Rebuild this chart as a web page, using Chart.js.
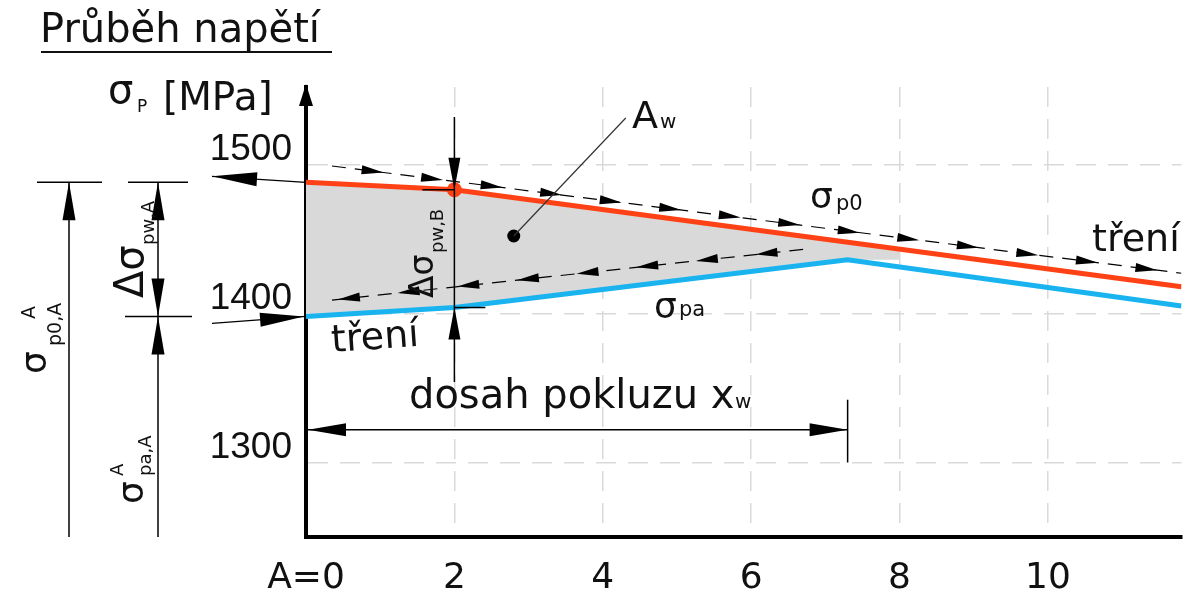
<!DOCTYPE html>
<html>
<head>
<meta charset="utf-8">
<script src="https://cdn.jsdelivr.net/npm/chart.js@4.4.0/dist/chart.umd.min.js"></script>
<style>
html, body { margin: 0; padding: 0; background: #fff; }
</style>
</head>
<body>
<canvas id="stressChart" width="1188" height="592"></canvas>
<script>
// osa x a y
const xTicks = [0, 2, 4, 6, 8, 10];
const yTicks = [1300, 1400, 1500];

// σp0 (cervena) a σpa (modra)
const p0X = [0, 2, 11.8];
const p0Y = [1488, 1483, 1418];
const paX = [0, 2, 7.3, 11.8];
const paY = [1398, 1404, 1436, 1405];

// plocha Aw
const awX = [0, 2, 7.3, 8];
const awTopY = [1488, 1483, 1447, 1443];
const awBottomY = [1398, 1404, 1436, 1436];
const awDot = [2.8, 1452];

// treni - carkovane cary se sipkami
const frictionOutX = [0.35, 11.8];
const frictionOutY = [1499, 1427];
const frictionInX = [0.35, 6.7];
const frictionInY = [1409, 1443];

// dosah pokluzu xw
const slipReach = 7.3;
const slipDimY = 1322;

const toPts = (xs, ys) => xs.map((v, i) => ({ x: v, y: ys[i] }));

const TXT = "'DejaVu Sans', sans-serif";

function arrowHead(ctx, tx, ty, fx, fy, len, half) {
    const a = Math.atan2(ty - fy, tx - fx);
    const c = Math.cos(a), s = Math.sin(a);
    ctx.beginPath();
    ctx.moveTo(tx, ty);
    ctx.lineTo(tx - len * c + half * s, ty - len * s - half * c);
    ctx.lineTo(tx - len * c - half * s, ty - len * s + half * c);
    ctx.closePath();
    ctx.fill();
}

function seg(ctx, x1, y1, x2, y2, w) {
    ctx.lineWidth = w;
    ctx.beginPath();
    ctx.moveTo(x1, y1);
    ctx.lineTo(x2, y2);
    ctx.stroke();
}

// sipky podel carkovane cary
function arrowsAlong(ctx, x1, y1, x2, y2, step, start, len, half, back) {
    const L = Math.hypot(x2 - x1, y2 - y1);
    const ux = (x2 - x1) / L, uy = (y2 - y1) / L;
    for (let s = start; s + len <= L; s += step) {
        const ax = x1 + ux * s, ay = y1 + uy * s;
        const bx = x1 + ux * (s + len), by = y1 + uy * (s + len);
        if (back) arrowHead(ctx, ax, ay, bx, by, len, half);
        else arrowHead(ctx, bx, by, ax, ay, len, half);
    }
}

function txt(ctx, s, x, y, size, align) {
    ctx.font = size + 'px ' + TXT;
    ctx.textAlign = align || 'left';
    ctx.fillText(s, x, y);
}

const overlay = {
    id: 'overlay',
    afterDatasetsDraw(chart) {
        const { ctx, chartArea: ca, scales: { x, y } } = chart;
        const X = v => x.getPixelForValue(v);
        const Y = v => y.getPixelForValue(v);
        ctx.save();
        ctx.fillStyle = '#000';
        ctx.strokeStyle = '#000';
        ctx.textBaseline = 'alphabetic';

        // sipka osy y
        arrowHead(ctx, ca.left, ca.top - 3, ca.left, ca.top + 20, 22, 7);

        // sipky treni
        const o1x = X(frictionOutX[0]), o1y = Y(frictionOutY[0]);
        const o2x = X(frictionOutX[1]), o2y = Y(frictionOutY[1]);
        arrowsAlong(ctx, o1x, o1y, o2x, o2y, 60, 30, 22, 4.5, false);
        const i1x = X(frictionInX[0]), i1y = Y(frictionInY[0]);
        const i2x = X(frictionInX[1]), i2y = Y(frictionInY[1]);
        arrowsAlong(ctx, i1x, i1y, i2x, i2y, 60, 6, 22, 4.5, true);

        // sipky vlevo od osy
        const yA0 = Y(p0Y[0]), yAa = Y(paY[0]);
        seg(ctx, ca.left, yA0, 212, yA0 - 6, 1.2);
        arrowHead(ctx, 212, yA0 - 6, ca.left, yA0, 45, 7);
        seg(ctx, 212, yAa + 7, ca.left, yAa, 1.2);
        arrowHead(ctx, ca.left - 2, yAa, 212, yAa + 7, 44, 7);

        // koty vlevo
        const yBot = ca.bottom;
        seg(ctx, 37, yA0, 102, yA0, 1.5);
        seg(ctx, 128, yA0, 188, yA0, 1.5);
        seg(ctx, 125, yAa, 192, yAa, 1.5);
        seg(ctx, 69, yA0, 69, yBot, 1.5);
        arrowHead(ctx, 69, yA0, 69, yBot, 38, 6.5);
        seg(ctx, 158, yA0, 158, yBot, 1.5);
        arrowHead(ctx, 158, yA0, 158, yAa, 38, 6.5);
        arrowHead(ctx, 158, yAa, 158, yA0, 38, 6.5);
        arrowHead(ctx, 158, yAa, 158, yBot, 38, 6.5);

        // kota Δσpw,B v bode B
        const xB = X(p0X[1]), yBr = Y(p0Y[1]), yBb = Y(paY[1]);
        seg(ctx, xB, 117, xB, 382, 1.5);
        arrowHead(ctx, xB, yBr, xB, 117, 32, 6);
        arrowHead(ctx, xB, yBb, xB, 382, 32, 6);
        seg(ctx, xB - 32, yBr, xB, yBr, 1.5);
        seg(ctx, xB, yBb, xB + 31, yBb, 1.5);

        // kota dosah pokluzu
        const yd = Y(slipDimY), xw = X(slipReach);
        seg(ctx, ca.left, yd, xw, yd, 1.5);
        arrowHead(ctx, ca.left + 2, yd, xw, yd, 38, 6.5);
        arrowHead(ctx, xw, yd, ca.left, yd, 38, 6.5);
        seg(ctx, xw, yd - 30, xw, Y(1300), 1.5);

        // Aw odkaz
        const dx = X(awDot[0]), dy = Y(awDot[1]);
        ctx.strokeStyle = '#333';
        seg(ctx, dx, dy, dx + 112, dy - 118, 1.2);
        ctx.strokeStyle = '#000';

        // texty
        ctx.fillStyle = '#111';
        txt(ctx, 'Průběh napětí', 40, 42, 40);
        ctx.fillRect(41, 51, 291, 2);
        txt(ctx, 'σ', 108, 103, 40);
        txt(ctx, 'P', 137, 112, 17);
        txt(ctx, '[MPa]', 163, 110, 39);

        txt(ctx, 'A', 632, 128, 38);
        txt(ctx, 'w', 660, 128, 20);
        txt(ctx, 'σ', 810, 208, 36);
        txt(ctx, 'p0', 836, 210, 21);
        txt(ctx, 'σ', 654, 318, 36);
        txt(ctx, 'pa', 679, 316, 21);
        txt(ctx, 'tření', 1092, 251, 38);
        ctx.save();
        ctx.translate(332, 352);
        ctx.rotate(-0.07);
        txt(ctx, 'tření', 0, 0, 38);
        ctx.restore();
        txt(ctx, 'dosah pokluzu x', 409, 408, 40);
        txt(ctx, 'w', 735, 408, 20);

        // svisle popisky
        ctx.save();
        ctx.translate(46, 374);
        ctx.rotate(-Math.PI / 2);
        txt(ctx, 'σ', 0, 0, 36);
        txt(ctx, 'p0,A', 28, 15, 19);
        txt(ctx, 'A', 55, -11, 19);
        ctx.restore();

        ctx.save();
        ctx.translate(143, 298);
        ctx.rotate(-Math.PI / 2);
        txt(ctx, 'Δσ', 0, 0, 40);
        txt(ctx, 'pw,A', 53, 11, 18);
        ctx.restore();

        ctx.save();
        ctx.translate(143, 504);
        ctx.rotate(-Math.PI / 2);
        txt(ctx, 'σ', 0, 0, 36);
        txt(ctx, 'A', 28, -20, 18);
        txt(ctx, 'pa,A', 28, 8, 18);
        ctx.restore();

        ctx.save();
        ctx.translate(433, 298);
        ctx.rotate(-Math.PI / 2);
        txt(ctx, 'Δσ', 0, 0, 33);
        txt(ctx, 'pw,B', 45, 10, 18);
        ctx.restore();

        ctx.restore();
    }
};

const ctx = document.getElementById('stressChart').getContext('2d');
const stressChart = new Chart(ctx, {
    type: 'line',
    data: {
        datasets: [{
            label: 'Aw',
            data: toPts(awX, awTopY),
            borderWidth: 0,
            pointRadius: 0,
            backgroundColor: '#d9d9d9',
            fill: { target: 1 },
            order: 10
        }, {
            label: 'Aw dolni',
            data: toPts(awX, awBottomY),
            borderWidth: 0,
            pointRadius: 0,
            fill: false,
            order: 9
        }, {
            label: 'treni ven',
            data: toPts(frictionOutX, frictionOutY),
            borderColor: '#000',
            borderWidth: 1.2,
            borderDash: [14, 9],
            pointRadius: 0,
            fill: false,
            order: 5
        }, {
            label: 'treni dovnitr',
            data: toPts(frictionInX, frictionInY),
            borderColor: '#000',
            borderWidth: 1.2,
            borderDash: [14, 9],
            pointRadius: 0,
            fill: false,
            order: 5
        }, {
            label: 'σpa',
            data: toPts(paX, paY),
            borderColor: '#19b4f0',
            borderWidth: 5,
            pointRadius: 0,
            tension: 0,
            fill: false,
            order: 3
        }, {
            label: 'σp0',
            data: toPts(p0X, p0Y),
            borderColor: '#ff4216',
            backgroundColor: '#ff4216',
            borderWidth: 5,
            pointRadius: [0, 7.5, 0],
            pointBorderWidth: 0,
            tension: 0,
            fill: false,
            order: 2
        }, {
            label: 'Aw tezisko',
            data: [{ x: awDot[0], y: awDot[1] }],
            showLine: false,
            pointRadius: 6.5,
            pointBorderWidth: 0,
            backgroundColor: '#000',
            borderColor: '#000',
            order: 1
        }]
    },
    options: {
        responsive: false,
        animation: false,
        layout: { padding: { top: 87, right: 0, left: 0, bottom: 0 } },
        plugins: {
            legend: { display: false },
            tooltip: { enabled: false }
        },
        scales: {
            x: {
                type: 'linear',
                min: 0,
                max: 11.8,
                afterFit: s => { s.height = 55; },
                afterBuildTicks: s => { s.ticks = xTicks.map(v => ({ value: v })); },
                grid: { color: '#d9d9d9', lineWidth: 1.5, drawTicks: false },
                border: { color: '#000', width: 4, dash: [20, 12] },
                ticks: {
                    padding: 20,
                    color: '#111',
                    font: { family: "'DejaVu Sans', sans-serif", size: 36 },
                    callback: v => (v === 0 ? 'A=0' : String(v))
                }
            },
            y: {
                min: 1250,
                max: 1552,
                afterFit: s => { s.width = 306; },
                afterBuildTicks: s => { s.ticks = yTicks.map(v => ({ value: v })); },
                grid: { color: '#d9d9d9', lineWidth: 1.5, drawTicks: false },
                border: { color: '#000', width: 4, dash: [20, 12] },
                ticks: {
                    padding: 14,
                    labelOffset: -15,
                    color: '#111',
                    font: { family: "'Liberation Sans', sans-serif", size: 37 },
                    callback: v => String(v)
                }
            }
        }
    },
    plugins: [overlay]
});
</script>
</body>
</html>
